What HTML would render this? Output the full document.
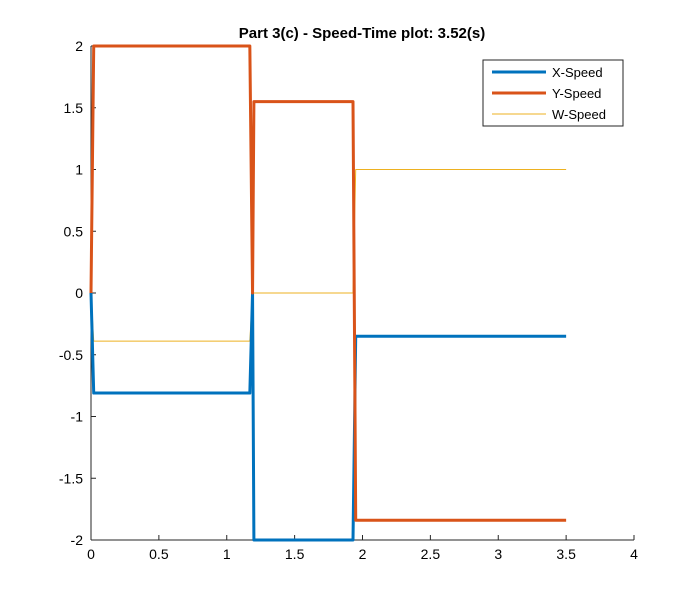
<!DOCTYPE html>
<html><head><meta charset="utf-8"><style>
body{margin:0;background:#fff;}
svg{display:block;font-family:"Liberation Sans",Arial,sans-serif;}
</style></head><body>
<svg id="chart" width="700" height="607" viewBox="0 0 700 607">
<rect width="700" height="607" fill="#fff"/>
<text x="362" y="38" text-anchor="middle" font-size="15" font-weight="bold" fill="#000">Part 3(c) - Speed-Time plot: 3.52(s)</text>
<g id="axes"></g>
<g id="series"></g>
<g id="legend">
<rect x="483" y="60" width="140" height="66" fill="#fff" stroke="#262626" stroke-width="1"/>
<line x1="492" y1="72" x2="546" y2="72" stroke="#0072BD" stroke-width="3"/>
<text x="552" y="77" font-size="13">X-Speed</text>
<line x1="492" y1="93" x2="546" y2="93" stroke="#D95319" stroke-width="3"/>
<text x="552" y="98" font-size="13">Y-Speed</text>
<line x1="492" y1="114" x2="546" y2="114" stroke="#EDB120" stroke-width="1"/>
<text x="552" y="119" font-size="13">W-Speed</text>
</g>
</svg>
<script>
const times = [0, 0.02, 1.17, 1.19, 1.20, 1.93, 1.95, 3.5];
const xSpeed = [0, -0.81, -0.81, 0, -2, -2, -0.35, -0.35];
const ySpeed = [0, 2, 2, 0, 1.55, 1.55, -1.84, -1.84];
const wSpeed = [0, -0.39, -0.39, 0, 0, 0, 1, 1];
const xTicks = [0, 0.5, 1, 1.5, 2, 2.5, 3, 3.5, 4];
const yTicks = [-2, -1.5, -1, -0.5, 0, 0.5, 1, 1.5, 2];

const L = 91, R = 634, T = 46, B = 540;
const sx = v => L + (v - 0) / 4 * (R - L);
const sy = v => B - (v + 2) / 4 * (B - T);
const NS = "http://www.w3.org/2000/svg";
const axes = document.getElementById('axes');
const series = document.getElementById('series');

function mkLine(x1, y1, x2, y2, name) {
  const l = document.createElementNS(NS, 'line');
  l.setAttribute('x1', x1); l.setAttribute('x2', x2); l.setAttribute('y1', y1); l.setAttribute('y2', y2);
  l.setAttribute('stroke', '#262626');
  
  
  axes.appendChild(l);
}
mkLine(L, T, L, B, 'y-axis-line');
mkLine(L, B, R, B, 'x-axis-line');

xTicks.forEach(v => {
  const x = sx(v);
  mkLine(x, B, x, B - 5, 'x-tick');
  const t = document.createElementNS(NS, 'text');
  t.setAttribute('x', x); t.setAttribute('y', B + 19);
  t.setAttribute('text-anchor', 'middle'); t.setAttribute('font-size', '14');
  t.textContent = String(v);
  
  
  axes.appendChild(t);
});
yTicks.forEach(v => {
  const y = sy(v);
  mkLine(L, y, L + 5, y, 'y-tick');
  const t = document.createElementNS(NS, 'text');
  t.setAttribute('x', L - 8); t.setAttribute('y', y + 5);
  t.setAttribute('text-anchor', 'end'); t.setAttribute('font-size', '14');
  t.textContent = String(v);
  
  
  axes.appendChild(t);
});

function drawLine(vals, color, w, name) {
  const p = document.createElementNS(NS, 'polyline');
  p.setAttribute('points', times.map((t, i) => sx(t) + ',' + sy(vals[i])).join(' '));
  p.setAttribute('fill', 'none'); p.setAttribute('stroke', color);
  p.setAttribute('stroke-width', w); p.setAttribute('stroke-linejoin', 'round');
  
  
  series.appendChild(p);
}
drawLine(wSpeed, '#EDB120', 1, 'w-speed-line');
drawLine(xSpeed, '#0072BD', 3, 'x-speed-line');
drawLine(ySpeed, '#D95319', 3, 'y-speed-line');
</script>
</body></html>
